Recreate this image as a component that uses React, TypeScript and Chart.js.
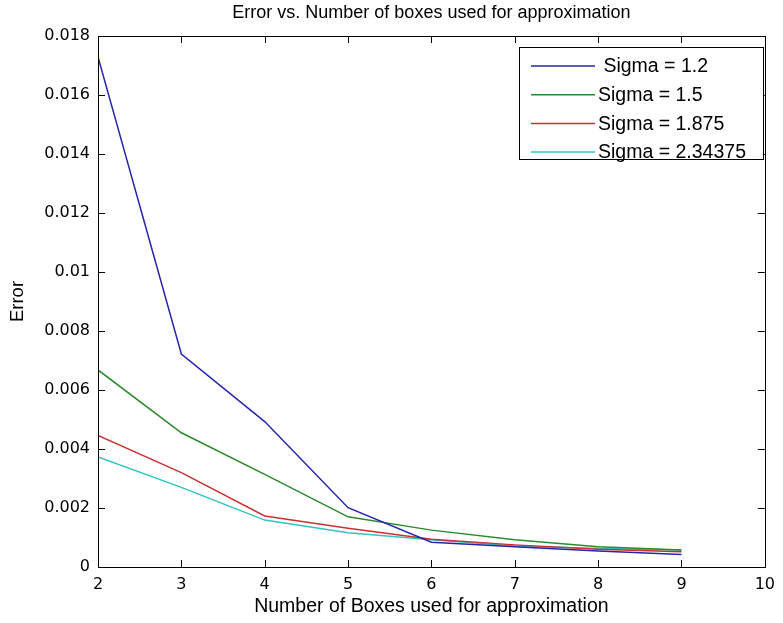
import { useEffect, useRef } from "react";
import { Chart, registerables } from "chart.js";

Chart.register(...registerables);

const boxes = [2, 3, 4, 5, 6, 7, 8, 9];
const sigmaLabels = [" Sigma = 1.2", "Sigma = 1.5", "Sigma = 1.875", "Sigma = 2.34375"];
const errSigma1_2 = [0.01729, 0.00722, 0.00493, 0.00201, 0.00084, 0.00069, 0.00054, 0.00042];
const errSigma1_5 = [0.00668, 0.00455, 0.00314, 0.0017, 0.00125, 0.00092, 0.00069, 0.00058];
const errSigma1_875 = [0.00446, 0.0032, 0.00173, 0.00131, 0.00094, 0.00075, 0.0006, 0.00052];
const errSigma2_34375 = [0.00373, 0.0027, 0.00159, 0.00116, 0.00092, 0.00071, 0.00063, 0.00058];
const seriesColors = ["#2626aa", "#2b8a2b", "#cc3030", "#30c4c4"];
const xTickLabels = ["2", "3", "4", "5", "6", "7", "8", "9", "10"];
const yTickLabels = ["0", "0.002", "0.004", "0.006", "0.008", "0.01", "0.012", "0.014", "0.016", "0.018"];
const titleText = "Error vs. Number of boxes used for approximation";
const xTitle = "Number of Boxes used for approximation";
const yTitle = "Error";

const FONT = "'Liberation Sans', Arial, sans-serif";
const TICK_FONT = "'DejaVu Sans', sans-serif";

const matlabPlugin = {
  id: "matlabDecor",
  afterDraw(chart: any) {
    const { ctx, chartArea } = chart;
    const { left, right, top, bottom } = chartArea;
    const xs = chart.scales.x;
    const ys = chart.scales.y;
    ctx.save();
    ctx.strokeStyle = "#000";
    ctx.lineWidth = 1;
    ctx.strokeRect(Math.round(left) + 0.5, Math.round(top) + 0.5, Math.round(right - left), Math.round(bottom - top));
    const tl = 7;
    ctx.beginPath();
    xs.ticks.forEach((t: any) => {
      const px = Math.round(xs.getPixelForValue(t.value)) + 0.5;
      ctx.moveTo(px, bottom);
      ctx.lineTo(px, bottom - tl);
      ctx.moveTo(px, top);
      ctx.lineTo(px, top + tl);
    });
    ys.ticks.forEach((t: any) => {
      const py = Math.round(ys.getPixelForValue(t.value)) + 0.5;
      ctx.moveTo(left, py);
      ctx.lineTo(left + tl, py);
      ctx.moveTo(right, py);
      ctx.lineTo(right - tl, py);
    });
    ctx.stroke();

    ctx.fillStyle = "#000";
    ctx.textAlign = "center";
    ctx.textBaseline = "middle";
    const cx = (left + right) / 2;
    ctx.font = `18px ${FONT}`;
    ctx.fillText(titleText, cx, 13);
    ctx.font = `19.5px ${FONT}`;
    ctx.fillText(xTitle, cx, 607);
    ctx.save();
    ctx.font = `18.5px ${FONT}`;
    ctx.translate(18, (top + bottom) / 2);
    ctx.rotate(-Math.PI / 2);
    ctx.fillText(yTitle, 0, 0);
    ctx.restore();

    // legend
    const lx = 519, ly = 47, lw = 244, lh = 112;
    ctx.fillStyle = "#fff";
    ctx.fillRect(lx, ly, lw, lh);
    ctx.strokeStyle = "#000";
    ctx.lineWidth = 1;
    ctx.strokeRect(lx + 0.5, ly + 0.5, lw, lh);
    ctx.textAlign = "left";
    ctx.font = `19.5px ${FONT}`;
    chart.data.datasets.forEach((ds: any, i: number) => {
      const ry = 66 + i * 28.7;
      ctx.strokeStyle = ds.borderColor;
      ctx.lineWidth = 1.5;
      ctx.beginPath();
      ctx.moveTo(531, ry);
      ctx.lineTo(595, ry);
      ctx.stroke();
      ctx.fillStyle = "#000";
      ctx.fillText(ds.label, 598, ry + 1);
    });
    ctx.restore();
  },
};

export default function App() {
  const ref = useRef<HTMLCanvasElement | null>(null);
  useEffect(() => {
    document.body.style.margin = "0";
    const series = [errSigma1_2, errSigma1_5, errSigma1_875, errSigma2_34375];
    const chart = new Chart(ref.current as HTMLCanvasElement, {
      type: "line",
      data: {
        datasets: series.map((s, i) => ({
          label: sigmaLabels[i],
          data: boxes.map((b, j) => ({ x: b, y: s[j] })),
          borderColor: seriesColors[i],
          backgroundColor: seriesColors[i],
          borderWidth: 1.5,
          pointRadius: 0,
          tension: 0,
          fill: false,
        })),
      },
      options: {
        animation: false,
        responsive: true,
        maintainAspectRatio: false,
        layout: { padding: { top: 36, right: 15, left: 0, bottom: 0 }, autoPadding: false },
        plugins: { legend: { display: false }, title: { display: false }, tooltip: { enabled: false } },
        scales: {
          x: {
            type: "linear",
            min: 2,
            max: 10,
            grid: { display: false, drawTicks: false },
            border: { display: false },
            ticks: {
              stepSize: 1,
              padding: 8,
              color: "#000",
              font: { family: TICK_FONT, size: 16 },
              maxRotation: 0,
              callback: (v: any) => xTickLabels[xTickLabels.indexOf(String(v))] ?? "",
            },
            afterFit: (s: any) => { s.height = 56; },
          },
          y: {
            type: "linear",
            min: 0,
            max: 0.018,
            grid: { display: false, drawTicks: false },
            border: { display: false },
            ticks: {
              stepSize: 0.002,
              padding: 8,
              color: "#000",
              font: { family: TICK_FONT, size: 16 },
              callback: (v: any) => yTickLabels[Math.round(Number(v) / 0.002)] ?? "",
            },
            afterFit: (s: any) => { s.width = 98; },
          },
        },
      },
      plugins: [matlabPlugin],
    });
    return () => chart.destroy();
  }, []);
  return (
    <div style={{ position: "absolute", left: 0, top: 0, width: 783, height: 623, background: "#fff" }}>
      <canvas ref={ref} />
    </div>
  );
}
